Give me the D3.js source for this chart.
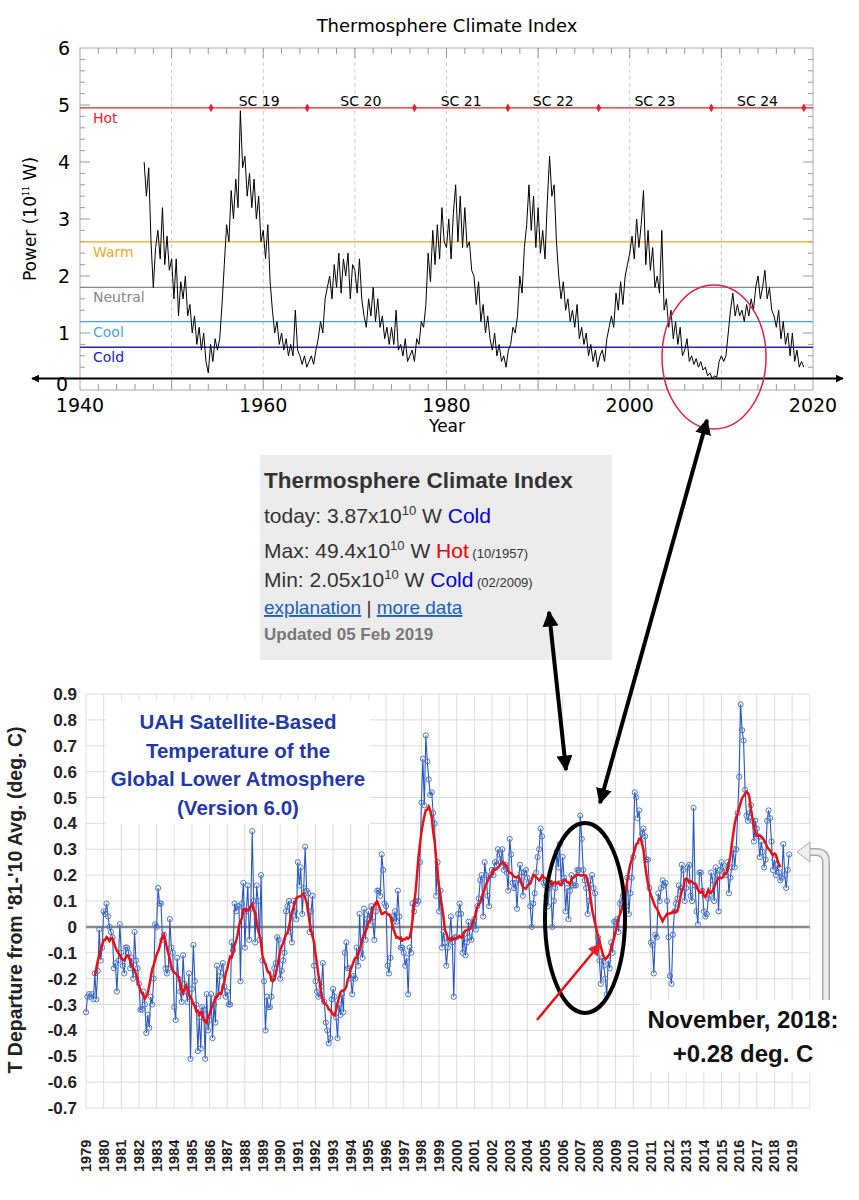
<!DOCTYPE html>
<html><head><meta charset="utf-8">
<script src="https://cdn.jsdelivr.net/npm/d3@7"></script>
<style>body{margin:0;background:#fff}text{font-family:"DejaVu Sans",sans-serif}</style>
</head><body><svg id="c" width="859" height="1200"></svg>
<script>
// ---------- DATA ----------
const tciStart = 1947.0; // quarterly values, 10^11 W
const tciValues = [
4.0,3.4,3.9,2.6, 1.8,2.5,2.8,2.3, 3.2,2.2,2.7,2.1, 2.3,1.6,2.3,1.3, 1.9,1.6,2.0,1.3, 1.5,1.0,1.3,0.8, 1.1,0.7,1.0,0.5, 0.3,0.8,0.5,0.9,
0.7,0.9,1.5,2.2, 2.9,2.6,3.5,3.0, 3.7,3.2,4.9,3.9, 4.1,3.4,3.8,3.2, 3.7,3.0,3.4,2.6, 2.8,2.3,2.9,1.9, 1.4,1.0,1.2,0.8, 1.0,0.7,0.9,0.6,
0.8,0.6,1.4,0.7, 0.6,0.45,0.6,0.4, 0.5,0.6,0.45,0.7, 0.9,1.2,1.0,1.6, 1.8,2.0,1.6,2.2, 1.8,2.4,1.7,2.3, 2.0,2.4,1.6,2.2, 2.1,1.7,2.3,1.6,
1.3,1.1,1.6,1.3, 1.8,1.2,1.6,1.1, 1.3,0.9,1.1,0.8, 1.1,0.8,1.4,0.7, 0.8,0.6,0.9,0.5, 0.6,0.7,0.5,0.9, 0.8,1.2,1.1,1.5, 2.4,1.9,2.8,2.2,
2.9,2.3,3.2,2.6, 2.5,3.0,2.3,3.1, 3.6,2.6,3.4,2.5, 3.2,2.5,2.6,2.1, 2.0,1.5,1.9,1.2, 1.5,1.0,1.3,0.9, 0.7,1.0,0.6,0.8, 0.5,0.6,0.4,0.7,
0.8,1.1,1.0,1.3, 2.0,1.7,2.5,2.9, 3.6,2.8,3.4,2.5, 3.2,2.4,2.8,2.3, 3.3,4.1,3.4,3.6, 2.6,2.0,1.6,1.9, 1.4,1.6,1.2,1.4, 1.1,1.5,0.9,1.1,
0.8,1.0,0.6,0.8, 0.5,0.7,0.4,0.6, 0.7,0.5,0.9,1.1, 1.3,1.1,1.7,1.4, 1.9,1.5,2.0,2.2, 2.4,2.7,2.3,3.0, 2.5,2.9,3.5,2.2, 2.8,2.1,2.5,1.8,
2.0,1.7,2.8,1.4, 1.6,1.1,1.4,0.9, 1.2,0.8,1.1,0.6, 0.7,0.9,0.5,0.6, 0.45,0.55,0.4,0.5, 0.35,0.4,0.25,0.3, 0.2,0.25,0.22,0.5, 0.6,0.5,0.6,1.0,
1.4,1.7,1.3,1.5, 1.3,1.4,1.2,1.5, 1.3,1.6,1.4,1.8, 2.0,1.6,1.8,2.1, 1.6,1.8,1.4,1.3, 1.1,1.4,0.9,1.2, 0.8,1.0,0.6,1.0, 0.5,0.7,0.4,0.5, 0.4];
const levels = [{name:"Hot",v:4.95,c:"#e8202a"},{name:"Warm",v:2.6,c:"#f5a623"},{name:"Neutral",v:1.8,c:"#888888"},{name:"Cool",v:1.2,c:"#4aa3e8"},{name:"Cold",v:0.75,c:"#2222bb"}];
const cycleBounds = [1954.3,1964.8,1976.5,1986.7,1996.6,2008.9,2019.0];
const cycleLabels = ["SC 19","SC 20","SC 21","SC 22","SC 23","SC 24"];

const uahStart = 1979; // monthly, deg C
const uahValues = [
-0.33,-0.27,-0.26,-0.27,-0.26,-0.28,-0.18,-0.28,-0.17,-0.01,-0.13,-0.08,
0.06,0.05,0.09,0.04,0.00,-0.02,-0.04,-0.16,-0.14,-0.25,-0.13,0.01,
-0.10,-0.15,-0.18,-0.08,-0.08,-0.10,-0.16,-0.12,-0.20,-0.02,-0.13,-0.16,
-0.22,-0.32,-0.32,-0.25,-0.30,-0.41,-0.34,-0.39,-0.27,-0.30,-0.20,0.01,
0.00,0.15,0.09,0.09,-0.05,-0.03,-0.16,-0.18,-0.16,0.03,-0.08,-0.10,
-0.31,-0.36,-0.12,-0.20,-0.25,-0.29,-0.11,-0.22,-0.25,-0.29,-0.18,-0.51,
-0.24,-0.07,-0.21,-0.30,-0.48,-0.35,-0.47,-0.31,-0.32,-0.51,-0.26,-0.40,
-0.36,-0.26,-0.43,-0.30,-0.37,-0.15,-0.27,-0.19,-0.16,-0.14,-0.23,-0.27,
-0.25,-0.30,-0.30,-0.06,-0.09,0.09,0.06,0.08,0.08,-0.21,0.09,0.17,
-0.08,0.06,0.16,-0.05,0.07,0.37,0.10,-0.06,0.16,0.10,-0.05,0.20,
-0.13,-0.21,-0.40,-0.27,-0.31,-0.31,-0.27,-0.20,-0.16,-0.14,-0.04,-0.05,
-0.20,-0.17,-0.13,-0.10,0.06,0.08,0.10,-0.02,-0.06,0.10,0.06,0.03,
0.25,0.16,0.23,0.05,0.15,0.31,0.14,0.13,-0.02,0.06,0.12,-0.15,
-0.21,-0.25,-0.27,-0.26,-0.23,-0.14,-0.29,-0.37,-0.40,-0.45,-0.43,-0.28,
-0.24,-0.27,-0.35,-0.43,-0.30,-0.34,-0.26,-0.33,-0.10,-0.06,-0.16,-0.16,
-0.20,-0.26,-0.19,-0.20,-0.08,-0.15,0.05,-0.10,-0.12,0.07,-0.05,0.03,
0.06,0.03,0.08,0.02,-0.05,0.06,0.14,0.14,0.12,0.28,0.22,0.09,
0.08,-0.15,-0.18,-0.12,0.04,0.02,0.06,0.02,0.14,0.04,-0.08,-0.08,
-0.10,-0.15,-0.12,-0.26,-0.08,-0.10,0.09,0.06,0.10,0.09,0.10,0.25,
0.48,0.65,0.47,0.74,0.64,0.57,0.51,0.52,0.44,0.40,0.12,0.25,
0.06,0.14,-0.08,-0.02,-0.06,-0.15,-0.08,-0.05,0.04,-0.06,-0.27,-0.04,
-0.04,0.05,0.09,0.05,-0.10,-0.03,-0.11,-0.06,0.02,-0.04,-0.05,0.00,
0.03,-0.01,0.08,0.11,0.18,0.20,0.04,0.25,0.20,0.12,0.08,0.20,
0.22,0.20,0.25,0.24,0.30,0.28,0.25,0.30,0.22,0.24,0.21,0.14,
0.34,0.28,0.17,0.15,0.17,0.07,0.18,0.24,0.21,0.12,0.21,0.22,
0.19,0.17,0.08,0.00,0.09,0.13,0.21,0.27,0.30,0.38,0.35,0.17,
0.16,0.12,0.08,0.15,0.17,0.00,0.10,0.15,0.29,0.23,0.32,0.17,
0.27,0.19,0.06,0.15,0.03,0.14,0.20,0.16,0.16,0.16,0.22,0.22,
0.43,0.34,0.22,0.18,0.15,0.05,0.10,0.18,0.20,0.15,0.13,-0.09,
-0.04,-0.13,-0.22,-0.12,-0.15,-0.20,-0.26,-0.13,-0.16,-0.06,-0.10,0.02,
0.02,0.03,-0.02,0.09,0.10,0.12,0.12,0.08,0.19,0.05,0.13,0.19,
0.27,0.52,0.50,0.42,0.45,0.33,0.36,0.38,0.35,0.26,0.26,0.15,
-0.06,-0.07,-0.18,-0.03,-0.04,0.13,0.10,0.15,0.18,0.16,0.17,0.10,
-0.04,-0.19,-0.22,-0.03,0.06,0.09,0.11,0.16,0.14,0.24,0.22,0.10,
0.15,0.23,0.24,0.12,0.10,0.46,0.16,0.06,0.01,0.21,0.21,0.14,
0.06,0.04,0.05,0.11,0.12,0.21,0.18,0.10,0.23,0.20,0.06,0.22,
0.25,0.23,0.21,0.20,0.25,0.13,0.19,0.23,0.30,0.23,0.30,0.44,
0.58,0.86,0.76,0.72,0.53,0.43,0.41,0.44,0.47,0.41,0.33,0.41,
0.38,0.35,0.27,0.33,0.29,0.23,0.26,0.41,0.45,0.42,0.33,0.22,
0.26,0.20,0.24,0.21,0.18,0.19,0.32,0.20,0.15,0.22,0.28];
const uahYears = d3.range(1979,2020).map(String);
const uahTicks = d3.range(-0.7,0.91,0.1).map(v=>+v.toFixed(1));

// ---------- TOP CHART ----------
const svg = d3.select("#c");
const x1 = d3.scaleLinear().domain([1940,2020]).range([80,813]);
const y1 = d3.scaleLinear().domain([0,6]).range([390,48]);
const g1 = svg.append("g");
g1.append("text").attr("x",447).attr("y",32).attr("text-anchor","middle").attr("font-size",18).text("Thermosphere Climate Index");
g1.selectAll(".dl").data(d3.range(1950,2020,10)).join("line").attr("x1",d=>x1(d)).attr("x2",d=>x1(d)).attr("y1",y1(6)).attr("y2",y1(0)).attr("stroke","#ccc").attr("stroke-dasharray","4,3");
g1.append("rect").attr("x",x1(1940)).attr("y",y1(6)).attr("width",x1(2020)-x1(1940)).attr("height",y1(0)-y1(6)).attr("fill","none").attr("stroke","#aaa");
const xm = d3.range(1942,2020,2), ym = d3.range(0.2,5.99,0.2);
[[y1(0),-1],[y1(6),1]].forEach(([yy,s])=>{
 g1.selectAll(null).data(xm).join("line").attr("x1",d=>x1(d)).attr("x2",d=>x1(d)).attr("y1",yy).attr("y2",d=>yy+s*(d%10===0?10:6)).attr("stroke","#999");});
[[x1(1940),1],[x1(2020),-1]].forEach(([xx,s])=>{
 g1.selectAll(null).data(ym).join("line").attr("y1",d=>y1(d)).attr("y2",d=>y1(d)).attr("x1",xx).attr("x2",d=>xx+s*(Math.abs(d-Math.round(d))<0.01?10:5)).attr("stroke","#999");});
g1.selectAll(".yl").data(d3.range(1,7)).join("text").attr("x",70).attr("y",d=>y1(d)+7).attr("text-anchor","end").attr("font-size",19).text(d=>d);
g1.append("text").attr("x",56).attr("y",y1(0)+1).attr("font-size",19).text("0");
g1.selectAll(".xl").data(d3.range(1940,2021,20)).join("text").attr("x",d=>x1(d)).attr("y",412).attr("text-anchor","middle").attr("font-size",19).text(d=>d);
g1.append("text").attr("x",447).attr("y",432).attr("text-anchor","middle").attr("font-size",17).text("Year");
g1.append("text").attr("transform","translate(36,219) rotate(-90)").attr("text-anchor","middle").attr("font-size",17).html('Power (10<tspan dy="-7" font-size="8">11</tspan><tspan dy="7"> W)</tspan>');
levels.forEach(l=>{
 g1.append("line").attr("x1",x1(1940)).attr("x2",x1(2020)).attr("y1",y1(l.v)).attr("y2",y1(l.v)).attr("stroke",l.c).attr("stroke-width",1.3);
 g1.append("text").attr("x",93).attr("y",y1(l.v)+15).attr("font-size",14).attr("fill",l.c).text(l.name);
});
g1.selectAll(".dm").data(cycleBounds).join("path").attr("d",d3.symbol(d3.symbolDiamond,22)).attr("transform",d=>`translate(${x1(d)},${y1(4.95)})`).attr("fill","#e8202a");
g1.selectAll(".sc").data(cycleLabels).join("text").attr("x",(d,i)=>x1((cycleBounds[i]+cycleBounds[i+1])/2)).attr("y",y1(4.95)-2).attr("text-anchor","middle").attr("font-size",14).text(d=>d);
const tci = tciValues.map((v,i)=>[tciStart+i*0.25,v]);
g1.append("path").datum(tci).attr("fill","none").attr("stroke","#000").attr("stroke-width",1).attr("d",d3.line().x(d=>x1(d[0])).y(d=>y1(d[1])));
const defs = svg.append("defs");
function mk(id,c,sz){defs.append("marker").attr("id",id).attr("viewBox","0 0 10 10").attr("refX",9).attr("refY",5).attr("markerWidth",sz).attr("markerHeight",sz).attr("orient","auto-start-reverse").append("path").attr("d","M0,0L10,5L0,10z").attr("fill",c);}
mk("ab","#000",4);mk("ar","#e8202a",5);
g1.append("line").attr("x1",32).attr("x2",843).attr("y1",y1(0.2)).attr("y2",y1(0.2)).attr("stroke","#000").attr("stroke-width",2).attr("marker-start","url(#ab)").attr("marker-end","url(#ab)");
g1.append("ellipse").attr("cx",x1(2009.2)).attr("cy",357).attr("rx",52).attr("ry",72).attr("fill","none").attr("stroke","#e02040").attr("stroke-width",1.5);

// ---------- INFO BOX ----------
const ib = svg.append("g");
ib.append("rect").attr("x",260).attr("y",455).attr("width",352).attr("height",205).attr("fill","#ececec");
const T=(y,html,sz,wt)=>ib.append("text").attr("x",264).attr("y",y).attr("font-size",sz).attr("font-weight",wt||"normal").attr("fill","#333").style("font-family","Liberation Sans, Arial").html(html);
T(488,"Thermosphere Climate Index",22.5,"bold");
T(523,'today: 3.87x10<tspan dy="-8" font-size="13">10</tspan><tspan dy="8"> W </tspan><tspan fill="#0000dd">Cold</tspan>',21);
T(558,'Max: 49.4x10<tspan dy="-8" font-size="13">10</tspan><tspan dy="8"> W </tspan><tspan fill="#ee0000">Hot</tspan><tspan font-size="13"> (10/1957)</tspan>',21);
T(587,'Min: 2.05x10<tspan dy="-8" font-size="13">10</tspan><tspan dy="8"> W </tspan><tspan fill="#0000dd">Cold</tspan><tspan font-size="13"> (02/2009)</tspan>',21);
T(614,'<tspan fill="#1a5fc0" text-decoration="underline">explanation</tspan> | <tspan fill="#1a5fc0" text-decoration="underline">more data</tspan>',19);
T(640,"Updated 05 Feb 2019",17,"bold").attr("fill","#777");

// ---------- BOTTOM CHART ----------
const x2 = d3.scaleLinear().domain([1979,2019.9]).range([86,808]);
const y2 = d3.scaleLinear().domain([-0.7,0.9]).range([1108,694]);
const g2 = svg.append("g");
const NF = "Liberation Sans Narrow, Liberation Sans";
g2.selectAll(".vg").data(d3.range(1979,2021)).join("line").attr("x1",d=>x2(d)).attr("x2",d=>x2(d)).attr("y1",y2(0.9)).attr("y2",y2(-0.7)).attr("stroke","#ddd");
g2.selectAll(".hg").data(uahTicks).join("line").attr("x1",x2(1979)).attr("x2",x2(2020)).attr("y1",d=>y2(d)).attr("y2",d=>y2(d)).attr("stroke","#ddd");
g2.append("line").attr("x1",x2(1979)).attr("x2",x2(2020)).attr("y1",y2(0)).attr("y2",y2(0)).attr("stroke","#888").attr("stroke-width",2.5);
g2.selectAll(".yt").data(uahTicks).join("text").attr("x",77).attr("y",d=>y2(d)+6).attr("text-anchor","end").attr("font-size",17).attr("font-weight","bold").attr("fill","#222").style("font-family",NF).text(d=>d===0?"0":d.toFixed(1));
g2.selectAll(".xt").data(uahYears).join("text").attr("transform",d=>`translate(${x2(+d)+5},1172) rotate(-90)`).attr("font-size",14.5).attr("font-weight","bold").attr("fill","#222").style("font-family","Liberation Sans").text(d=>d);
g2.append("text").attr("transform","translate(22,900) rotate(-90)").attr("text-anchor","middle").attr("font-size",19.5).attr("font-weight","bold").attr("fill","#222").style("font-family","Liberation Sans").text("T Departure from '81-'10 Avg. (deg. C)");
g2.append("rect").attr("x",106).attr("y",700).attr("width",264).attr("height",124).attr("fill","#fff");
["UAH Satellite-Based","Temperature of the","Global Lower Atmosphere","(Version 6.0)"].forEach((t,i)=>g2.append("text").attr("x",238).attr("y",729+i*28.5).attr("text-anchor","middle").attr("font-size",20.5).attr("font-weight","bold").attr("fill","#1f3aa8").style("font-family",NF).text(t));
const uah = uahValues.map((v,i)=>[uahStart+i/12,v]);
g2.append("path").datum(uah).attr("fill","none").attr("stroke","#2a55c0").attr("stroke-width",1.1).attr("d",d3.line().x(d=>x2(d[0])).y(d=>y2(d[1])));
g2.selectAll(".pt").data(uah).join("circle").attr("cx",d=>x2(d[0])).attr("cy",d=>y2(d[1])).attr("r",2.6).attr("fill","none").attr("stroke","#4a78c8").attr("stroke-width",1);
const rm = [];
for(let i=6;i<uah.length-6;i++) rm.push([uah[i][0],d3.mean(uah.slice(i-6,i+7),d=>d[1])]);
g2.append("path").datum(rm).attr("fill","none").attr("stroke","#e81010").attr("stroke-width",2.5).attr("d",d3.line().x(d=>x2(d[0])).y(d=>y2(d[1])));
g2.append("rect").attr("x",640).attr("y",1000).attr("width",205).attr("height",72).attr("fill","#fff");
g2.append("text").attr("x",743).attr("y",1028).attr("text-anchor","middle").attr("font-size",24).attr("font-weight","bold").attr("fill","#111").style("font-family",NF).text("November, 2018:");
g2.append("text").attr("x",743).attr("y",1062).attr("text-anchor","middle").attr("font-size",24).attr("font-weight","bold").attr("fill","#111").style("font-family",NF).text("+0.28 deg. C");
const cp = "M826,1000 L826,862 Q826,852 816,852 L808,852";
g2.append("path").attr("d",cp).attr("fill","none").attr("stroke","#aaa").attr("stroke-width",8);
g2.append("path").attr("d",cp).attr("fill","none").attr("stroke","#eee").attr("stroke-width",5);
g2.append("path").attr("d","M797,852 L810,842 L810,862 Z").attr("fill","#eee").attr("stroke","#aaa");
g2.append("ellipse").attr("cx",585).attr("cy",918).attr("rx",40).attr("ry",95).attr("fill","none").attr("stroke","#000").attr("stroke-width",4);
g2.append("line").attr("x1",537).attr("y1",1020).attr("x2",600).attr("y2",944).attr("stroke","#e81010").attr("stroke-width",2.5).attr("marker-end","url(#ar)");
svg.append("line").attr("x1",549).attr("y1",612).attr("x2",566).attr("y2",770).attr("stroke","#000").attr("stroke-width",4).attr("marker-start","url(#ab)").attr("marker-end","url(#ab)");
svg.append("line").attr("x1",600).attr("y1",803).attr("x2",707).attr("y2",420).attr("stroke","#000").attr("stroke-width",4).attr("marker-start","url(#ab)").attr("marker-end","url(#ab)");
</script></body></html>
